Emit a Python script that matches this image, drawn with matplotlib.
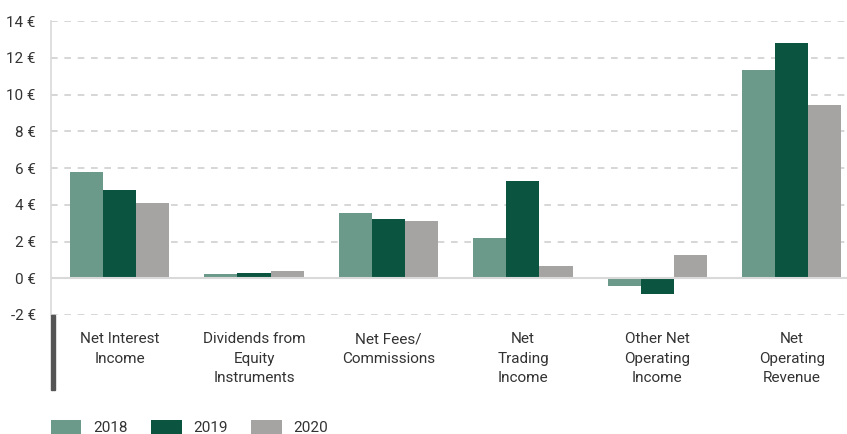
import matplotlib.pyplot as plt
import matplotlib.patches as mpatches
import numpy as np

categories = ["Net Interest\nIncome", "Dividends from\nEquity\nInstruments",
              "Net Fees/\nCommissions", "Net\nTrading\nIncome",
              "Other Net\nOperating\nIncome", "Net\nOperating\nRevenue"]
years = ["2018", "2019", "2020"]
v2018 = [5.8, 0.22, 3.54, 2.18, -0.44, 11.33]
v2019 = [4.78, 0.27, 3.21, 5.28, -0.87, 12.8]
v2020 = [4.08, 0.38, 3.1, 0.65, 1.25, 9.42]
yticks = [-2, 0, 2, 4, 6, 8, 10, 12, 14]

colors = ["#6b998a", "#0b5540", "#a5a4a2"]
text_color = "#333333"

plt.rcParams['font.family'] = ['Roboto', 'DejaVu Sans']

fig = plt.figure(figsize=(8.47, 4.34), dpi=100)
ax = fig.add_axes([51 / 847, 1 - 315 / 434, 1 - 51 / 847, (315 - 21) / 434])

x = np.arange(len(categories))
w = 0.246
for i, (vals, yr) in enumerate(zip([v2018, v2019, v2020], years)):
    ax.bar(x + (i - 1) * w, vals, width=w, color=colors[i], label=yr, zorder=3)

ax.set_xlim(-0.51, 5.41)
ax.set_ylim(-2, 14)
ax.set_yticks(yticks)
ax.set_yticklabels([f"{t} €" for t in yticks], color=text_color, fontsize=11)
ax.tick_params(axis='y', length=0, pad=11)
ax.set_xticks([])

for t in yticks:
    if t != 0:
        ax.axhline(t, color="#cfcfcf", lw=1.2, ls=(0, (4, 4)), zorder=1)
ax.axhline(0, color="#d9d9d9", lw=1.5, zorder=4)

for s in ["top", "right", "bottom"]:
    ax.spines[s].set_visible(False)
ax.spines["left"].set_color("#d9d9d9")
ax.spines["left"].set_linewidth(1.2)

# dark bar below the axis
fig.patches.append(mpatches.Rectangle((51 / 847, 1 - 390 / 434), 4 / 847, 75 / 434,
                                      transform=fig.transFigure, color="#555555"))

for xi, cat in zip(x, categories):
    ax.text(xi, -2.95, cat, ha="center", va="top", fontsize=11,
            color=text_color, linespacing=1.48,
            transform=ax.transData)

leg = fig.legend(loc="lower left", bbox_to_anchor=(37 / 847, -0.035), ncol=3,
                 frameon=False, fontsize=11, handlelength=2.0, handleheight=1.0,
                 columnspacing=1.55, handletextpad=0.75)
for t in leg.get_texts():
    t.set_color(text_color)

fig.savefig("out.png", dpi=100)
